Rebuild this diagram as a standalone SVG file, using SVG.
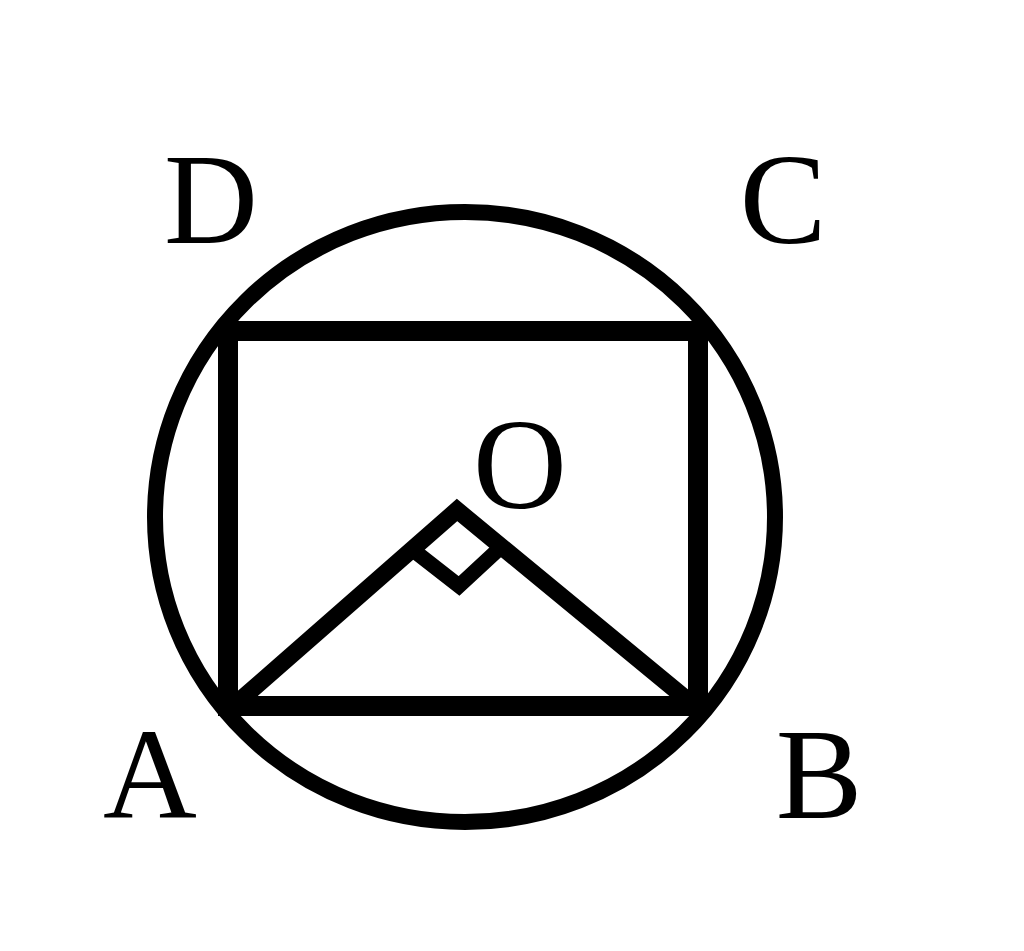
<svg xmlns="http://www.w3.org/2000/svg" width="1024" height="951" viewBox="0 0 1024 951">
<style>
.ln{fill:none;stroke:#000;stroke-linejoin:miter}
.lbl{font-family:"Liberation Serif","Times New Roman",serif;font-size:130px;fill:#000;text-anchor:middle}
</style>
<rect width="1024" height="951" fill="#fff"/>
<g id="circle"><ellipse class="ln" cx="465" cy="517" rx="310" ry="305" stroke-width="16"/></g>
<g id="connectors">
<rect class="ln" x="228" y="331" width="470" height="375" stroke-width="20"/>
<polyline class="ln" points="238,702 457,510 690,702" stroke-width="17"/>
<polyline class="ln" points="413,550 459,586 501,547" stroke-width="15"/>
</g>
<g id="labels">
<text class="lbl" x="211" y="243">D</text>
<text class="lbl" x="783" y="243">C</text>
<text class="lbl" x="520" y="508">O</text>
<text class="lbl" x="150" y="818">A</text>
<text class="lbl" x="819" y="818">B</text>
</g>
</svg>
